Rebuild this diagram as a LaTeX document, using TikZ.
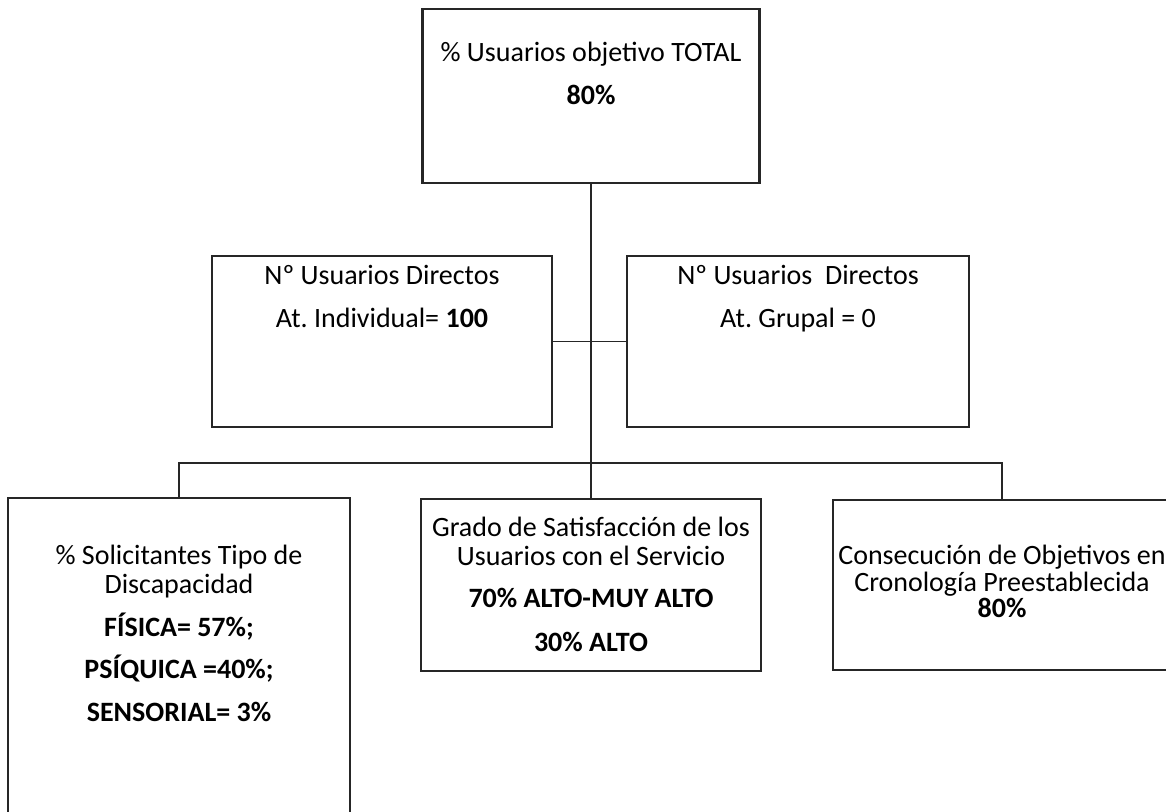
\documentclass[tikz,border=0pt]{standalone}
\usepackage{fontspec}
\setmainfont{Carlito}
\frenchspacing
\usetikzlibrary{positioning}

\begin{document}
\begin{tikzpicture}[
    x=1pt, y=-1pt,
    every node/.style={font=\fontsize{28}{29}\selectfont},
    box/.style={rectangle, draw=black!85, line width=2.6pt, minimum width=340pt, minimum height=172pt, inner sep=0pt},
    txt/.style={align=center, inner sep=0pt},
    wire/.style={draw=black!85, line width=1.6pt}
]
    \useasboundingbox (0,0) rectangle (1166,811);
    \clip (0,0) rectangle (1166,811);

    % Top box
    \node[box, minimum width=337pt, minimum height=174pt] (total) at (591,96) {};
    \node[txt, below=34.6pt of total.north] (totaltxt) {\% Usuarios objetivo TOTAL\\[14pt]\textbf{80\%}};

    % Direct users
    \node[box, minimum height=171pt] (indiv) at (382,341.5) {};
    \node[box, minimum width=342pt, minimum height=171pt] (grupal) at (798,341.5) {};
    \node[txt, below=10.6pt of indiv.north] (indivtxt) {Nº Usuarios Directos\\[14pt]At. Individual= \textbf{100}};
    \node[txt, below=10.6pt of grupal.north] (grupaltxt) {Nº Usuarios~ Directos\\[14pt]At. Grupal = 0};

    % Indicators
    \node[box, minimum width=342pt, minimum height=342pt] (tipo) at (179,669) {};
    \node[box] (satis) at (591,585) {};
    \node[box, minimum width=338pt, minimum height=170pt] (crono) at (1002,585) {};
    \node[txt, below=48.6pt of tipo.north] (tipotxt) {\% Solicitantes Tipo de\\Discapacidad\\[14pt]\textbf{FÍSICA= 57\%;}\\[13pt]\textbf{PSÍQUICA =40\%;}\\[14pt]\textbf{SENSORIAL= 3\%}};
    \node[txt, below=19.6pt of satis.north] (satistxt) {Grado de Satisfacción de los\\Usuarios con el Servicio\\[13pt]\textbf{70\% ALTO-MUY ALTO}\\[15pt]\textbf{30\% ALTO}};
    \node[txt, font=\fontsize{28}{26.5}\selectfont, below=46.6pt of crono.north] (cronotxt) {Consecución de Objetivos en\\Cronología Preestablecida\\\textbf{80\%}};

    % Lines
    \coordinate (bus) at (591,463);
    \draw[wire] (total.south) -- (satis.north);
    \draw[wire] (indiv.east) -- (grupal.west);
    \draw[wire] (tipo.north) |- (bus) -| (crono.north);

\end{tikzpicture}
\end{document}
